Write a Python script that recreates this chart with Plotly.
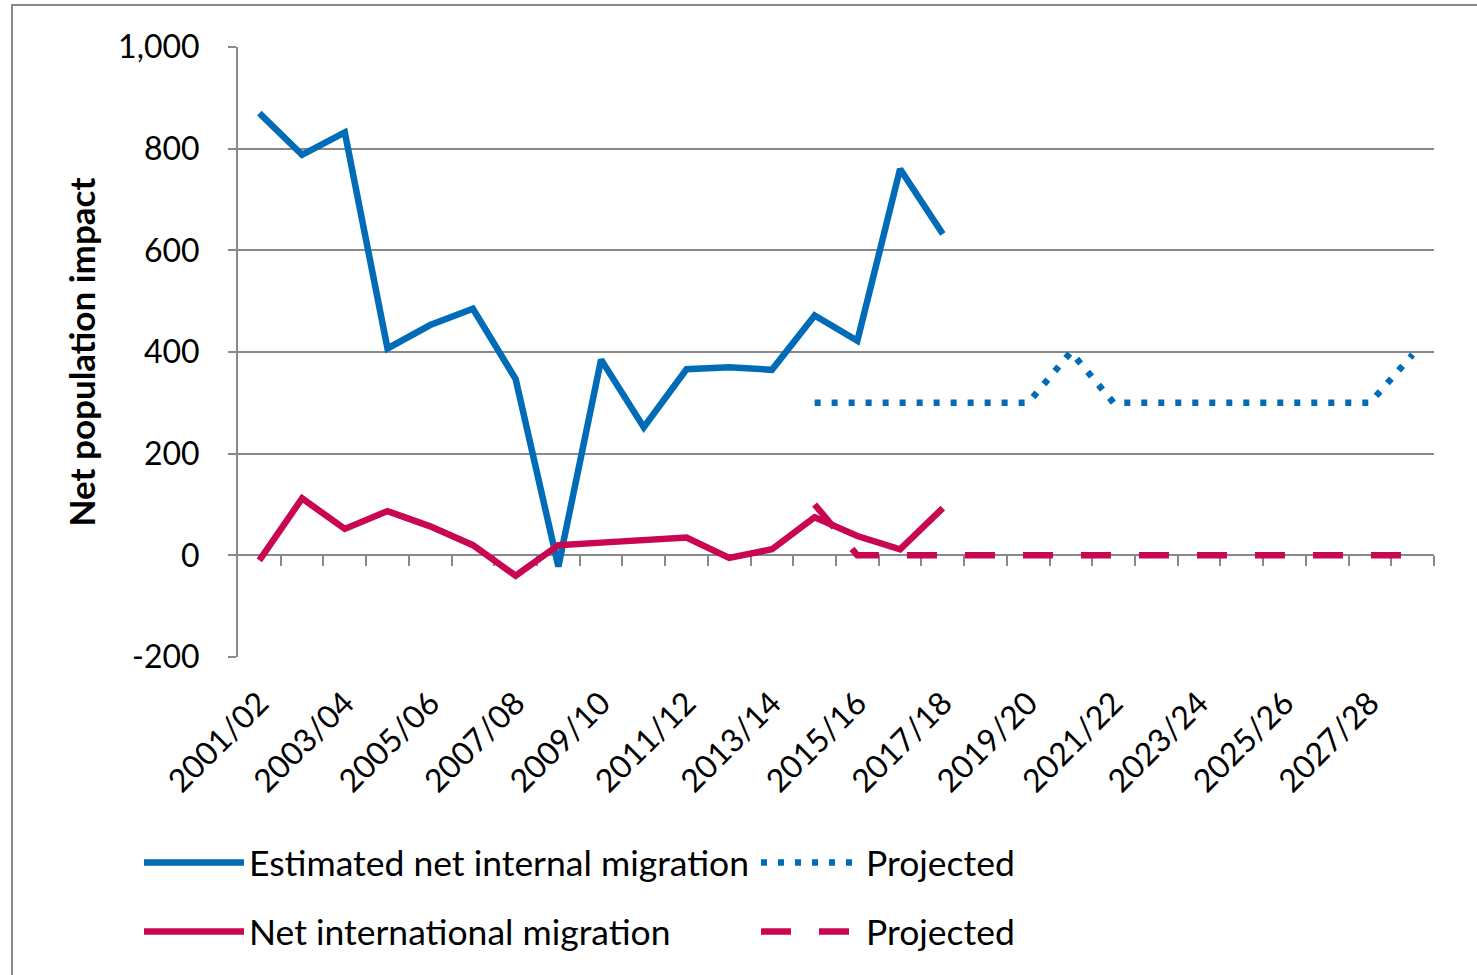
import plotly.graph_objects as go

categories = [f"{y}/{str(y + 1)[2:]}" for y in range(2001, 2029)]

internal_est = [870, 788, 832, 407, 453, 485, 347, -22, 385, 252, 366, 370, 365,
                472, 422, 760, 632] + [None] * 11
internal_proj = [None] * 13 + [300, 300, 300, 300, 300, 300, 400, 300, 300, 300,
                               300, 300, 300, 300, 395]
intl_est = [-10, 112, 52, 87, 57, 20, -40, 20, 25, 30, 35, -5, 12,
            75, 38, 12, 93] + [None] * 11
intl_proj = [None] * 13 + [100, 0, 0, 0, 0, 0, 0, 0, 0, 0, 0, 0, 0, 0, 0]

tick_labels = categories[::2]
y_ticks = [-200, 0, 200, 400, 600, 800, 1000]
y_ticktext = ["-200", "0", "200", "400", "600", "800", "1,000"]
boundaries = [k - 0.5 for k in range(1, 29)]

BLUE = "#006CB7"
PINK = "#C80651"
GRID = "#898989"
FONT = "Lato"

W, H = 1477, 975
L, R, T, B = 238, 1434, 47, 657
pw, ph = R - L, B - T

fig = go.Figure()
fig.add_trace(go.Scatter(x=categories, y=internal_est, mode="lines",
                         name="Estimated net internal migration",
                         line=dict(color=BLUE, width=6.5), legend="legend"))
fig.add_trace(go.Scatter(x=categories, y=internal_proj, mode="lines",
                         name="Projected",
                         line=dict(color=BLUE, width=6.5, dash="6px,11px"), legend="legend2"))
fig.add_trace(go.Scatter(x=categories, y=intl_est, mode="lines",
                         name="Net international migration",
                         line=dict(color=PINK, width=6.5), legend="legend3"))
fig.add_trace(go.Scatter(x=categories, y=intl_proj, mode="lines",
                         name="Projected",
                         line=dict(color=PINK, width=6.5, dash="30px,28px"), legend="legend4"))
# decoration axis for the zero-line ticks
fig.add_trace(go.Scatter(x=[0], y=[None], xaxis="x2", showlegend=False, hoverinfo="skip"))


def leg(px, py):
    return dict(orientation="h", x=(px - L) / pw, xanchor="left",
                y=(B - py) / ph, yanchor="middle", itemwidth=100,
                font=dict(family=FONT, size=35.5), bgcolor="rgba(0,0,0,0)")


fig.update_layout(
    width=W, height=H,
    margin=dict(l=L, r=W - R, t=T, b=H - B, autoexpand=False),
    paper_bgcolor="white", plot_bgcolor="white",
    font=dict(family=FONT, color="black"),
    xaxis=dict(type="category", categoryorder="array", categoryarray=categories,
               range=[-0.5, 27.5], tickvals=tick_labels, ticktext=tick_labels,
               tickangle=-45, ticks="", showgrid=False, showline=False, zeroline=False,
               ticklabelstandoff=20, tickfont=dict(family=FONT, size=32)),
    xaxis2=dict(overlaying="x", anchor="free", position=200 / 1200, side="bottom",
                range=[-0.5, 27.5], tickvals=boundaries, showticklabels=False,
                ticks="outside", ticklen=10, tickwidth=2, tickcolor=GRID,
                showline=True, linecolor=GRID, linewidth=2, showgrid=False,
                zeroline=False, layer="below traces"),
    yaxis=dict(range=[-200, 1000], tickvals=y_ticks, ticktext=y_ticktext,
               showgrid=True, gridcolor=GRID, gridwidth=2, zeroline=False,
               showline=True, linecolor=GRID, linewidth=2, ticks="outside", ticklen=8,
               tickwidth=2, tickcolor=GRID, ticklabelstandoff=22,
               tickfont=dict(family=FONT, size=32),
               title=dict(text="<b>Net population impact</b>",
                          font=dict(family=FONT, size=35), standoff=12)),
    legend=leg(139, 863),
    legend2=leg(756, 863),
    legend3=leg(139, 932),
    legend4=leg(756, 932),
    shapes=[dict(type="rect", xref="paper", yref="paper",
                 x0=(12 - L) / pw, x1=(1490 - L) / pw,
                 y0=(B - 990) / ph, y1=(B - 5) / ph,
                 line=dict(color=GRID, width=2), fillcolor="rgba(0,0,0,0)", layer="below")],
    showlegend=True,
)

fig.write_html("out.html", config={"displayModeBar": False},
               post_script="document.body.style.margin='0';")
